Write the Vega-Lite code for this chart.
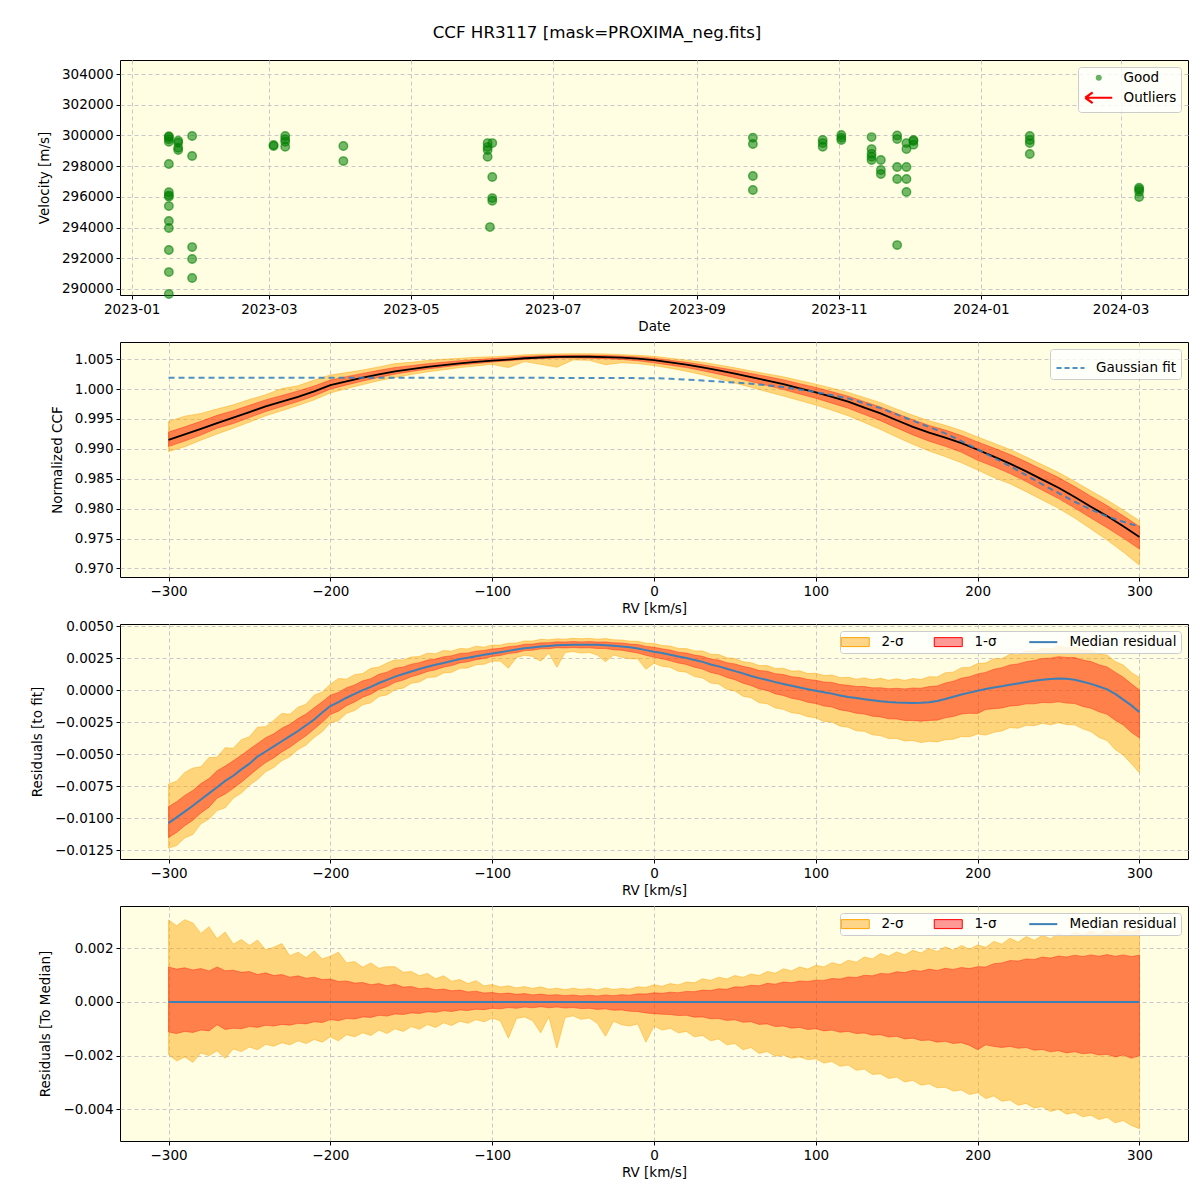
{
"$schema": "https://vega.github.io/schema/vega-lite/v6.json",
"padding": {"left": 29, "top": 24, "right": 12, "bottom": 10},
"background": "white",
"title": {"text": "CCF HR3117 [mask=PROXIMA_neg.fits]", "fontSize": 16.7, "fontWeight": "normal", "font": "DejaVu Sans", "anchor": "middle", "offset": 18, "dx": -12, "color": "black"},
"datasets": {
"pts": [
{"t":"2023-01-17","v":299950,"s":"Good"},{"t":"2023-01-17","v":299895,"s":"Good"},{"t":"2023-01-17","v":299750,"s":"Good"},{"t":"2023-01-17","v":299590,"s":"Good"},{"t":"2023-01-17","v":298140,"s":"Good"},{"t":"2023-01-17","v":296300,"s":"Good"},{"t":"2023-01-17","v":296100,"s":"Good"},{"t":"2023-01-17","v":296000,"s":"Good"},{"t":"2023-01-17","v":295400,"s":"Good"},{"t":"2023-01-17","v":294430,"s":"Good"},{"t":"2023-01-17","v":293970,"s":"Good"},{"t":"2023-01-17","v":292540,"s":"Good"},{"t":"2023-01-17","v":291100,"s":"Good"},{"t":"2023-01-17","v":289670,"s":"Good"},
{"t":"2023-01-21","v":299650,"s":"Good"},{"t":"2023-01-21","v":299520,"s":"Good"},{"t":"2023-01-21","v":299200,"s":"Good"},{"t":"2023-01-21","v":299050,"s":"Good"},
{"t":"2023-01-27","v":299960,"s":"Good"},{"t":"2023-01-27","v":298660,"s":"Good"},{"t":"2023-01-27","v":292730,"s":"Good"},{"t":"2023-01-27","v":291950,"s":"Good"},{"t":"2023-01-27","v":290720,"s":"Good"},
{"t":"2023-03-03","v":299310,"s":"Good"},{"t":"2023-03-03","v":299380,"s":"Good"},
{"t":"2023-03-08","v":299960,"s":"Good"},{"t":"2023-03-08","v":299750,"s":"Good"},{"t":"2023-03-08","v":299590,"s":"Good"},{"t":"2023-03-08","v":299260,"s":"Good"},
{"t":"2023-04-02","v":299310,"s":"Good"},{"t":"2023-04-02","v":298330,"s":"Good"},
{"t":"2023-06-03","v":299500,"s":"Good"},{"t":"2023-06-03","v":299240,"s":"Good"},{"t":"2023-06-03","v":299050,"s":"Good"},{"t":"2023-06-03","v":298610,"s":"Good"},
{"t":"2023-06-04","v":294030,"s":"Good"},
{"t":"2023-06-05","v":299500,"s":"Good"},{"t":"2023-06-05","v":297290,"s":"Good"},{"t":"2023-06-05","v":295920,"s":"Good"},{"t":"2023-06-05","v":295750,"s":"Good"},
{"t":"2023-09-25","v":299850,"s":"Good"},{"t":"2023-09-25","v":299440,"s":"Good"},{"t":"2023-09-25","v":297360,"s":"Good"},{"t":"2023-09-25","v":296450,"s":"Good"},
{"t":"2023-10-25","v":299700,"s":"Good"},{"t":"2023-10-25","v":299500,"s":"Good"},{"t":"2023-10-25","v":299260,"s":"Good"},
{"t":"2023-11-02","v":300030,"s":"Good"},{"t":"2023-11-02","v":299850,"s":"Good"},{"t":"2023-11-02","v":299700,"s":"Good"},
{"t":"2023-11-15","v":299890,"s":"Good"},{"t":"2023-11-15","v":299110,"s":"Good"},{"t":"2023-11-15","v":298800,"s":"Good"},{"t":"2023-11-15","v":298610,"s":"Good"},{"t":"2023-11-15","v":298400,"s":"Good"},
{"t":"2023-11-19","v":298400,"s":"Good"},{"t":"2023-11-19","v":297750,"s":"Good"},{"t":"2023-11-19","v":297490,"s":"Good"},
{"t":"2023-11-26","v":300000,"s":"Good"},{"t":"2023-11-26","v":299760,"s":"Good"},{"t":"2023-11-26","v":297940,"s":"Good"},{"t":"2023-11-26","v":297160,"s":"Good"},{"t":"2023-11-26","v":292860,"s":"Good"},
{"t":"2023-11-30","v":299500,"s":"Good"},{"t":"2023-11-30","v":299110,"s":"Good"},{"t":"2023-11-30","v":297940,"s":"Good"},{"t":"2023-11-30","v":297160,"s":"Good"},{"t":"2023-11-30","v":296320,"s":"Good"},
{"t":"2023-12-03","v":299700,"s":"Good"},{"t":"2023-12-03","v":299630,"s":"Good"},{"t":"2023-12-03","v":299400,"s":"Good"},
{"t":"2024-01-22","v":299960,"s":"Good"},{"t":"2024-01-22","v":299700,"s":"Good"},{"t":"2024-01-22","v":299500,"s":"Good"},{"t":"2024-01-22","v":298790,"s":"Good"},
{"t":"2024-03-09","v":296600,"s":"Good"},{"t":"2024-03-09","v":296500,"s":"Good"},{"t":"2024-03-09","v":296340,"s":"Good"},{"t":"2024-03-09","v":295990,"s":"Good"}
],
"p2": [
{"rv":-300,"ccf":0.99150,"g":1.00190,"u2":0.99455,"u1":0.99280,"l1":0.99038,"l2":0.98955},
{"rv":-290,"ccf":0.99240,"g":1.00190,"u2":0.99546,"u1":0.99367,"l1":0.99130,"l2":0.99035},
{"rv":-280,"ccf":0.99335,"g":1.00190,"u2":0.99590,"u1":0.99459,"l1":0.99230,"l2":0.99145},
{"rv":-270,"ccf":0.99430,"g":1.00190,"u2":0.99665,"u1":0.99560,"l1":0.99345,"l2":0.99248},
{"rv":-260,"ccf":0.99520,"g":1.00190,"u2":0.99735,"u1":0.99638,"l1":0.99422,"l2":0.99345},
{"rv":-250,"ccf":0.99615,"g":1.00190,"u2":0.99825,"u1":0.99728,"l1":0.99523,"l2":0.99447},
{"rv":-240,"ccf":0.99710,"g":1.00190,"u2":0.99904,"u1":0.99818,"l1":0.99623,"l2":0.99552},
{"rv":-230,"ccf":0.99790,"g":1.00190,"u2":1.00007,"u1":0.99892,"l1":0.99706,"l2":0.99638},
{"rv":-220,"ccf":0.99870,"g":1.00190,"u2":1.00055,"u1":0.99967,"l1":0.99790,"l2":0.99725},
{"rv":-210,"ccf":0.99959,"g":1.00189,"u2":1.00149,"u1":1.00051,"l1":0.99885,"l2":0.99819},
{"rv":-200,"ccf":1.00064,"g":1.00189,"u2":1.00234,"u1":1.00149,"l1":0.99998,"l2":0.99934},
{"rv":-190,"ccf":1.00129,"g":1.00189,"u2":1.00274,"u1":1.00207,"l1":1.00067,"l2":1.00007},
{"rv":-180,"ccf":1.00189,"g":1.00189,"u2":1.00318,"u1":1.00261,"l1":1.00133,"l2":1.00074},
{"rv":-170,"ccf":1.00244,"g":1.00189,"u2":1.00369,"u1":1.00312,"l1":1.00194,"l2":1.00139},
{"rv":-160,"ccf":1.00294,"g":1.00189,"u2":1.00425,"u1":1.00360,"l1":1.00249,"l2":1.00194},
{"rv":-150,"ccf":1.00334,"g":1.00189,"u2":1.00447,"u1":1.00391,"l1":1.00293,"l2":1.00242},
{"rv":-140,"ccf":1.00371,"g":1.00189,"u2":1.00477,"u1":1.00423,"l1":1.00334,"l2":1.00287},
{"rv":-130,"ccf":1.00400,"g":1.00188,"u2":1.00497,"u1":1.00448,"l1":1.00367,"l2":1.00322},
{"rv":-120,"ccf":1.00430,"g":1.00188,"u2":1.00513,"u1":1.00474,"l1":1.00400,"l2":1.00358},
{"rv":-110,"ccf":1.00452,"g":1.00188,"u2":1.00531,"u1":1.00492,"l1":1.00425,"l2":1.00386},
{"rv":-100,"ccf":1.00474,"g":1.00188,"u2":1.00539,"u1":1.00509,"l1":1.00450,"l2":1.00413},
{"rv":-90,"ccf":1.00493,"g":1.00187,"u2":1.00553,"u1":1.00526,"l1":1.00472,"l2":1.00358},
{"rv":-80,"ccf":1.00514,"g":1.00187,"u2":1.00571,"u1":1.00545,"l1":1.00495,"l2":1.00458},
{"rv":-70,"ccf":1.00527,"g":1.00187,"u2":1.00583,"u1":1.00556,"l1":1.00509,"l2":1.00412},
{"rv":-60,"ccf":1.00536,"g":1.00186,"u2":1.00587,"u1":1.00563,"l1":1.00517,"l2":1.00364},
{"rv":-50,"ccf":1.00539,"g":1.00186,"u2":1.00590,"u1":1.00565,"l1":1.00518,"l2":1.00487},
{"rv":-40,"ccf":1.00539,"g":1.00185,"u2":1.00589,"u1":1.00564,"l1":1.00515,"l2":1.00479},
{"rv":-30,"ccf":1.00534,"g":1.00184,"u2":1.00586,"u1":1.00560,"l1":1.00508,"l2":1.00406},
{"rv":-20,"ccf":1.00524,"g":1.00183,"u2":1.00574,"u1":1.00551,"l1":1.00494,"l2":1.00439},
{"rv":-10,"ccf":1.00507,"g":1.00182,"u2":1.00563,"u1":1.00537,"l1":1.00471,"l2":1.00425},
{"rv":0,"ccf":1.00482,"g":1.00182,"u2":1.00546,"u1":1.00516,"l1":1.00438,"l2":1.00392},
{"rv":10,"ccf":1.00446,"g":1.00170,"u2":1.00514,"u1":1.00482,"l1":1.00399,"l2":1.00348},
{"rv":20,"ccf":1.00408,"g":1.00158,"u2":1.00482,"u1":1.00447,"l1":1.00358,"l2":1.00298},
{"rv":30,"ccf":1.00362,"g":1.00142,"u2":1.00448,"u1":1.00406,"l1":1.00306,"l2":1.00237},
{"rv":40,"ccf":1.00310,"g":1.00125,"u2":1.00402,"u1":1.00359,"l1":1.00248,"l2":1.00172},
{"rv":50,"ccf":1.00256,"g":1.00108,"u2":1.00354,"u1":1.00312,"l1":1.00189,"l2":1.00101},
{"rv":60,"ccf":1.00198,"g":1.00088,"u2":1.00302,"u1":1.00260,"l1":1.00124,"l2":1.00028},
{"rv":70,"ccf":1.00140,"g":1.00062,"u2":1.00253,"u1":1.00209,"l1":1.00058,"l2":0.99955},
{"rv":80,"ccf":1.00080,"g":1.00033,"u2":1.00203,"u1":1.00154,"l1":0.99990,"l2":0.99882},
{"rv":90,"ccf":1.00012,"g":0.99992,"u2":1.00142,"u1":1.00090,"l1":0.99917,"l2":0.99807},
{"rv":100,"ccf":0.99945,"g":0.99950,"u2":1.00081,"u1":1.00026,"l1":0.99845,"l2":0.99733},
{"rv":110,"ccf":0.99867,"g":0.99895,"u2":1.00013,"u1":0.99954,"l1":0.99762,"l2":0.99645},
{"rv":120,"ccf":0.99788,"g":0.99843,"u2":0.99943,"u1":0.99881,"l1":0.99678,"l2":0.99553},
{"rv":130,"ccf":0.99690,"g":0.99762,"u2":0.99857,"u1":0.99789,"l1":0.99574,"l2":0.99440},
{"rv":140,"ccf":0.99592,"g":0.99680,"u2":0.99772,"u1":0.99698,"l1":0.99470,"l2":0.99324},
{"rv":150,"ccf":0.99477,"g":0.99575,"u2":0.99663,"u1":0.99589,"l1":0.99349,"l2":0.99197},
{"rv":160,"ccf":0.99368,"g":0.99470,"u2":0.99560,"u1":0.99486,"l1":0.99233,"l2":0.99076},
{"rv":170,"ccf":0.99270,"g":0.99365,"u2":0.99469,"u1":0.99392,"l1":0.99128,"l2":0.98965},
{"rv":180,"ccf":0.99188,"g":0.99258,"u2":0.99393,"u1":0.99313,"l1":0.99041,"l2":0.98870},
{"rv":190,"ccf":0.99095,"g":0.99130,"u2":0.99305,"u1":0.99223,"l1":0.98943,"l2":0.98767},
{"rv":200,"ccf":0.98985,"g":0.98990,"u2":0.99197,"u1":0.99116,"l1":0.98807,"l2":0.98647},
{"rv":210,"ccf":0.98870,"g":0.98850,"u2":0.99095,"u1":0.99012,"l1":0.98704,"l2":0.98520},
{"rv":220,"ccf":0.98752,"g":0.98710,"u2":0.98989,"u1":0.98906,"l1":0.98586,"l2":0.98417},
{"rv":230,"ccf":0.98622,"g":0.98560,"u2":0.98865,"u1":0.98782,"l1":0.98452,"l2":0.98284},
{"rv":240,"ccf":0.98485,"g":0.98405,"u2":0.98733,"u1":0.98652,"l1":0.98308,"l2":0.98145},
{"rv":250,"ccf":0.98350,"g":0.98260,"u2":0.98605,"u1":0.98521,"l1":0.98168,"l2":0.98005},
{"rv":260,"ccf":0.98195,"g":0.98115,"u2":0.98455,"u1":0.98369,"l1":0.98009,"l2":0.97843},
{"rv":270,"ccf":0.98033,"g":0.97985,"u2":0.98297,"u1":0.98208,"l1":0.97843,"l2":0.97661},
{"rv":280,"ccf":0.97875,"g":0.97870,"u2":0.98143,"u1":0.98051,"l1":0.97680,"l2":0.97475},
{"rv":290,"ccf":0.97705,"g":0.97780,"u2":0.97975,"u1":0.97880,"l1":0.97507,"l2":0.97273},
{"rv":300,"ccf":0.97526,"g":0.97700,"u2":0.97798,"u1":0.97700,"l1":0.97326,"l2":0.97054}
],
"p34": [
{"rv":-300,"z":0,"m":-0.01040,"a":0.00305,"b":0.00130,"c":-0.00112,"d":-0.00195,"A":-0.00735,"B":-0.00910,"C":-0.01152,"D":-0.01235},
{"rv":-295,"z":0,"m":-0.00995,"a":0.00283,"b":0.00122,"c":-0.00118,"d":-0.00220,"A":-0.00712,"B":-0.00873,"C":-0.01113,"D":-0.01215},
{"rv":-290,"z":0,"m":-0.00950,"a":0.00306,"b":0.00127,"c":-0.00110,"d":-0.00205,"A":-0.00644,"B":-0.00823,"C":-0.01060,"D":-0.01155},
{"rv":-285,"z":0,"m":-0.00904,"a":0.00294,"b":0.00119,"c":-0.00114,"d":-0.00225,"A":-0.00610,"B":-0.00785,"C":-0.01018,"D":-0.01129},
{"rv":-280,"z":0,"m":-0.00855,"a":0.00255,"b":0.00124,"c":-0.00105,"d":-0.00190,"A":-0.00600,"B":-0.00731,"C":-0.00960,"D":-0.01045},
{"rv":-275,"z":0,"m":-0.00807,"a":0.00280,"b":0.00115,"c":-0.00108,"d":-0.00200,"A":-0.00527,"B":-0.00692,"C":-0.00915,"D":-0.01007},
{"rv":-270,"z":0,"m":-0.00760,"a":0.00235,"b":0.00130,"c":-0.00085,"d":-0.00182,"A":-0.00525,"B":-0.00630,"C":-0.00845,"D":-0.00942},
{"rv":-265,"z":0,"m":-0.00710,"a":0.00260,"b":0.00116,"c":-0.00103,"d":-0.00210,"A":-0.00450,"B":-0.00594,"C":-0.00813,"D":-0.00920},
{"rv":-260,"z":0,"m":-0.00670,"a":0.00215,"b":0.00118,"c":-0.00098,"d":-0.00175,"A":-0.00455,"B":-0.00552,"C":-0.00768,"D":-0.00845},
{"rv":-255,"z":0,"m":-0.00620,"a":0.00232,"b":0.00110,"c":-0.00100,"d":-0.00185,"A":-0.00388,"B":-0.00510,"C":-0.00720,"D":-0.00805},
{"rv":-250,"z":0,"m":-0.00575,"a":0.00210,"b":0.00113,"c":-0.00092,"d":-0.00168,"A":-0.00365,"B":-0.00462,"C":-0.00667,"D":-0.00743},
{"rv":-245,"z":0,"m":-0.00520,"a":0.00230,"b":0.00102,"c":-0.00095,"d":-0.00178,"A":-0.00290,"B":-0.00418,"C":-0.00615,"D":-0.00698},
{"rv":-240,"z":0,"m":-0.00480,"a":0.00194,"b":0.00108,"c":-0.00087,"d":-0.00158,"A":-0.00286,"B":-0.00372,"C":-0.00567,"D":-0.00638},
{"rv":-235,"z":0,"m":-0.00440,"a":0.00203,"b":0.00098,"c":-0.00090,"d":-0.00165,"A":-0.00237,"B":-0.00342,"C":-0.00530,"D":-0.00605},
{"rv":-230,"z":0,"m":-0.00400,"a":0.00217,"b":0.00102,"c":-0.00084,"d":-0.00152,"A":-0.00183,"B":-0.00298,"C":-0.00484,"D":-0.00552},
{"rv":-225,"z":0,"m":-0.00360,"a":0.00171,"b":0.00092,"c":-0.00087,"d":-0.00160,"A":-0.00189,"B":-0.00268,"C":-0.00447,"D":-0.00520},
{"rv":-220,"z":0,"m":-0.00320,"a":0.00185,"b":0.00097,"c":-0.00080,"d":-0.00145,"A":-0.00135,"B":-0.00223,"C":-0.00400,"D":-0.00465},
{"rv":-215,"z":0,"m":-0.00275,"a":0.00165,"b":0.00088,"c":-0.00082,"d":-0.00155,"A":-0.00110,"B":-0.00187,"C":-0.00357,"D":-0.00430},
{"rv":-210,"z":0,"m":-0.00230,"a":0.00190,"b":0.00092,"c":-0.00074,"d":-0.00140,"A":-0.00040,"B":-0.00138,"C":-0.00304,"D":-0.00370},
{"rv":-205,"z":0,"m":-0.00175,"a":0.00160,"b":0.00083,"c":-0.00077,"d":-0.00150,"A":-0.00015,"B":-0.00092,"C":-0.00252,"D":-0.00325},
{"rv":-200,"z":0,"m":-0.00125,"a":0.00170,"b":0.00085,"c":-0.00066,"d":-0.00130,"A":0.00045,"B":-0.00040,"C":-0.00191,"D":-0.00255},
{"rv":-195,"z":0,"m":-0.00095,"a":0.00185,"b":0.00076,"c":-0.00070,"d":-0.00145,"A":0.00090,"B":-0.00019,"C":-0.00165,"D":-0.00240},
{"rv":-190,"z":0,"m":-0.00060,"a":0.00145,"b":0.00078,"c":-0.00062,"d":-0.00122,"A":0.00085,"B":0.00018,"C":-0.00122,"D":-0.00182},
{"rv":-185,"z":0,"m":-0.00030,"a":0.00150,"b":0.00070,"c":-0.00064,"d":-0.00130,"A":0.00120,"B":0.00040,"C":-0.00094,"D":-0.00160},
{"rv":-180,"z":0,"m":0.00000,"a":0.00129,"b":0.00072,"c":-0.00056,"d":-0.00115,"A":0.00129,"B":0.00072,"C":-0.00056,"D":-0.00115},
{"rv":-175,"z":0,"m":0.00025,"a":0.00145,"b":0.00064,"c":-0.00058,"d":-0.00125,"A":0.00170,"B":0.00089,"C":-0.00033,"D":-0.00100},
{"rv":-170,"z":0,"m":0.00055,"a":0.00125,"b":0.00068,"c":-0.00050,"d":-0.00105,"A":0.00180,"B":0.00123,"C":0.00005,"D":-0.00050},
{"rv":-165,"z":0,"m":0.00080,"a":0.00131,"b":0.00060,"c":-0.00053,"d":-0.00118,"A":0.00211,"B":0.00140,"C":0.00027,"D":-0.00038},
{"rv":-160,"z":0,"m":0.00105,"a":0.00131,"b":0.00066,"c":-0.00045,"d":-0.00100,"A":0.00236,"B":0.00171,"C":0.00060,"D":0.00005},
{"rv":-155,"z":0,"m":0.00125,"a":0.00110,"b":0.00055,"c":-0.00047,"d":-0.00110,"A":0.00235,"B":0.00180,"C":0.00078,"D":0.00015},
{"rv":-150,"z":0,"m":0.00145,"a":0.00113,"b":0.00057,"c":-0.00041,"d":-0.00092,"A":0.00258,"B":0.00202,"C":0.00104,"D":0.00053},
{"rv":-145,"z":0,"m":0.00165,"a":0.00097,"b":0.00049,"c":-0.00043,"d":-0.00102,"A":0.00262,"B":0.00214,"C":0.00122,"D":0.00063},
{"rv":-140,"z":0,"m":0.00182,"a":0.00106,"b":0.00052,"c":-0.00037,"d":-0.00084,"A":0.00288,"B":0.00234,"C":0.00145,"D":0.00098},
{"rv":-135,"z":0,"m":0.00197,"a":0.00086,"b":0.00045,"c":-0.00039,"d":-0.00095,"A":0.00283,"B":0.00242,"C":0.00158,"D":0.00102},
{"rv":-130,"z":0,"m":0.00212,"a":0.00097,"b":0.00048,"c":-0.00033,"d":-0.00078,"A":0.00309,"B":0.00260,"C":0.00179,"D":0.00134},
{"rv":-125,"z":0,"m":0.00227,"a":0.00077,"b":0.00041,"c":-0.00036,"d":-0.00088,"A":0.00304,"B":0.00268,"C":0.00191,"D":0.00139},
{"rv":-120,"z":0,"m":0.00242,"a":0.00083,"b":0.00044,"c":-0.00030,"d":-0.00072,"A":0.00325,"B":0.00286,"C":0.00212,"D":0.00170},
{"rv":-115,"z":0,"m":0.00253,"a":0.00068,"b":0.00037,"c":-0.00032,"d":-0.00080,"A":0.00321,"B":0.00290,"C":0.00221,"D":0.00173},
{"rv":-110,"z":0,"m":0.00264,"a":0.00079,"b":0.00040,"c":-0.00027,"d":-0.00066,"A":0.00343,"B":0.00304,"C":0.00237,"D":0.00198},
{"rv":-105,"z":0,"m":0.00276,"a":0.00059,"b":0.00033,"c":-0.00029,"d":-0.00074,"A":0.00335,"B":0.00309,"C":0.00247,"D":0.00202},
{"rv":-100,"z":0,"m":0.00286,"a":0.00065,"b":0.00035,"c":-0.00024,"d":-0.00061,"A":0.00351,"B":0.00321,"C":0.00262,"D":0.00225},
{"rv":-95,"z":0,"m":0.00296,"a":0.00055,"b":0.00030,"c":-0.00026,"d":-0.00070,"A":0.00351,"B":0.00326,"C":0.00270,"D":0.00226},
{"rv":-90,"z":0,"m":0.00306,"a":0.00060,"b":0.00033,"c":-0.00021,"d":-0.00135,"A":0.00366,"B":0.00339,"C":0.00285,"D":0.00171},
{"rv":-85,"z":0,"m":0.00316,"a":0.00052,"b":0.00028,"c":-0.00024,"d":-0.00062,"A":0.00368,"B":0.00344,"C":0.00292,"D":0.00254},
{"rv":-80,"z":0,"m":0.00327,"a":0.00057,"b":0.00031,"c":-0.00019,"d":-0.00056,"A":0.00384,"B":0.00358,"C":0.00308,"D":0.00271},
{"rv":-75,"z":0,"m":0.00333,"a":0.00050,"b":0.00026,"c":-0.00022,"d":-0.00070,"A":0.00383,"B":0.00359,"C":0.00311,"D":0.00263},
{"rv":-70,"z":0,"m":0.00340,"a":0.00056,"b":0.00029,"c":-0.00018,"d":-0.00115,"A":0.00396,"B":0.00369,"C":0.00322,"D":0.00225},
{"rv":-65,"z":0,"m":0.00345,"a":0.00047,"b":0.00025,"c":-0.00022,"d":-0.00055,"A":0.00392,"B":0.00370,"C":0.00323,"D":0.00290},
{"rv":-60,"z":0,"m":0.00350,"a":0.00051,"b":0.00027,"c":-0.00019,"d":-0.00172,"A":0.00401,"B":0.00377,"C":0.00331,"D":0.00178},
{"rv":-55,"z":0,"m":0.00352,"a":0.00045,"b":0.00023,"c":-0.00023,"d":-0.00058,"A":0.00397,"B":0.00375,"C":0.00329,"D":0.00294},
{"rv":-50,"z":0,"m":0.00353,"a":0.00051,"b":0.00026,"c":-0.00021,"d":-0.00052,"A":0.00404,"B":0.00379,"C":0.00332,"D":0.00301},
{"rv":-45,"z":0,"m":0.00354,"a":0.00046,"b":0.00022,"c":-0.00025,"d":-0.00065,"A":0.00400,"B":0.00376,"C":0.00329,"D":0.00289},
{"rv":-40,"z":0,"m":0.00354,"a":0.00050,"b":0.00025,"c":-0.00024,"d":-0.00060,"A":0.00404,"B":0.00379,"C":0.00330,"D":0.00294},
{"rv":-35,"z":0,"m":0.00353,"a":0.00044,"b":0.00022,"c":-0.00028,"d":-0.00080,"A":0.00397,"B":0.00375,"C":0.00325,"D":0.00273},
{"rv":-30,"z":0,"m":0.00350,"a":0.00052,"b":0.00026,"c":-0.00026,"d":-0.00128,"A":0.00402,"B":0.00376,"C":0.00324,"D":0.00222},
{"rv":-25,"z":0,"m":0.00346,"a":0.00046,"b":0.00023,"c":-0.00031,"d":-0.00072,"A":0.00392,"B":0.00369,"C":0.00315,"D":0.00274},
{"rv":-20,"z":0,"m":0.00341,"a":0.00050,"b":0.00027,"c":-0.00030,"d":-0.00085,"A":0.00391,"B":0.00368,"C":0.00311,"D":0.00256},
{"rv":-15,"z":0,"m":0.00335,"a":0.00047,"b":0.00025,"c":-0.00035,"d":-0.00090,"A":0.00382,"B":0.00360,"C":0.00300,"D":0.00245},
{"rv":-10,"z":0,"m":0.00325,"a":0.00056,"b":0.00030,"c":-0.00036,"d":-0.00082,"A":0.00381,"B":0.00355,"C":0.00289,"D":0.00243},
{"rv":-5,"z":0,"m":0.00312,"a":0.00054,"b":0.00029,"c":-0.00041,"d":-0.00150,"A":0.00366,"B":0.00341,"C":0.00271,"D":0.00162},
{"rv":0,"z":0,"m":0.00300,"a":0.00064,"b":0.00034,"c":-0.00044,"d":-0.00090,"A":0.00364,"B":0.00334,"C":0.00256,"D":0.00210},
{"rv":5,"z":0,"m":0.00290,"a":0.00058,"b":0.00032,"c":-0.00046,"d":-0.00105,"A":0.00348,"B":0.00322,"C":0.00244,"D":0.00185},
{"rv":10,"z":0,"m":0.00276,"a":0.00068,"b":0.00036,"c":-0.00047,"d":-0.00098,"A":0.00344,"B":0.00312,"C":0.00229,"D":0.00178},
{"rv":15,"z":0,"m":0.00262,"a":0.00063,"b":0.00034,"c":-0.00051,"d":-0.00115,"A":0.00325,"B":0.00296,"C":0.00211,"D":0.00147},
{"rv":20,"z":0,"m":0.00250,"a":0.00074,"b":0.00039,"c":-0.00050,"d":-0.00110,"A":0.00324,"B":0.00289,"C":0.00200,"D":0.00140},
{"rv":25,"z":0,"m":0.00235,"a":0.00071,"b":0.00038,"c":-0.00057,"d":-0.00130,"A":0.00306,"B":0.00273,"C":0.00178,"D":0.00105},
{"rv":30,"z":0,"m":0.00220,"a":0.00086,"b":0.00044,"c":-0.00056,"d":-0.00125,"A":0.00306,"B":0.00264,"C":0.00164,"D":0.00095},
{"rv":35,"z":0,"m":0.00200,"a":0.00080,"b":0.00042,"c":-0.00063,"d":-0.00145,"A":0.00280,"B":0.00242,"C":0.00137,"D":0.00055},
{"rv":40,"z":0,"m":0.00185,"a":0.00092,"b":0.00049,"c":-0.00062,"d":-0.00138,"A":0.00277,"B":0.00234,"C":0.00123,"D":0.00047},
{"rv":45,"z":0,"m":0.00167,"a":0.00085,"b":0.00047,"c":-0.00069,"d":-0.00160,"A":0.00252,"B":0.00214,"C":0.00098,"D":0.00007},
{"rv":50,"z":0,"m":0.00148,"a":0.00098,"b":0.00056,"c":-0.00067,"d":-0.00155,"A":0.00246,"B":0.00204,"C":0.00081,"D":-0.00007},
{"rv":55,"z":0,"m":0.00130,"a":0.00091,"b":0.00055,"c":-0.00076,"d":-0.00178,"A":0.00221,"B":0.00185,"C":0.00054,"D":-0.00048},
{"rv":60,"z":0,"m":0.00110,"a":0.00104,"b":0.00062,"c":-0.00074,"d":-0.00170,"A":0.00214,"B":0.00172,"C":0.00036,"D":-0.00060},
{"rv":65,"z":0,"m":0.00093,"a":0.00098,"b":0.00060,"c":-0.00084,"d":-0.00192,"A":0.00191,"B":0.00153,"C":0.00009,"D":-0.00099},
{"rv":70,"z":0,"m":0.00078,"a":0.00113,"b":0.00069,"c":-0.00082,"d":-0.00185,"A":0.00191,"B":0.00147,"C":-0.00004,"D":-0.00107},
{"rv":75,"z":0,"m":0.00062,"a":0.00107,"b":0.00066,"c":-0.00092,"d":-0.00202,"A":0.00169,"B":0.00128,"C":-0.00030,"D":-0.00140},
{"rv":80,"z":0,"m":0.00047,"a":0.00123,"b":0.00074,"c":-0.00090,"d":-0.00198,"A":0.00170,"B":0.00121,"C":-0.00043,"D":-0.00151},
{"rv":85,"z":0,"m":0.00033,"a":0.00115,"b":0.00071,"c":-0.00098,"d":-0.00210,"A":0.00148,"B":0.00104,"C":-0.00065,"D":-0.00177},
{"rv":90,"z":0,"m":0.00020,"a":0.00130,"b":0.00078,"c":-0.00095,"d":-0.00205,"A":0.00150,"B":0.00098,"C":-0.00075,"D":-0.00185},
{"rv":95,"z":0,"m":0.00007,"a":0.00122,"b":0.00076,"c":-0.00103,"d":-0.00215,"A":0.00129,"B":0.00083,"C":-0.00096,"D":-0.00208},
{"rv":100,"z":0,"m":-0.00005,"a":0.00136,"b":0.00081,"c":-0.00100,"d":-0.00212,"A":0.00131,"B":0.00076,"C":-0.00105,"D":-0.00217},
{"rv":105,"z":0,"m":-0.00017,"a":0.00130,"b":0.00080,"c":-0.00108,"d":-0.00228,"A":0.00113,"B":0.00063,"C":-0.00125,"D":-0.00245},
{"rv":110,"z":0,"m":-0.00028,"a":0.00146,"b":0.00087,"c":-0.00105,"d":-0.00222,"A":0.00118,"B":0.00059,"C":-0.00133,"D":-0.00250},
{"rv":115,"z":0,"m":-0.00042,"a":0.00138,"b":0.00085,"c":-0.00113,"d":-0.00240,"A":0.00096,"B":0.00043,"C":-0.00155,"D":-0.00282},
{"rv":120,"z":0,"m":-0.00055,"a":0.00155,"b":0.00093,"c":-0.00110,"d":-0.00235,"A":0.00100,"B":0.00038,"C":-0.00165,"D":-0.00290},
{"rv":125,"z":0,"m":-0.00063,"a":0.00148,"b":0.00091,"c":-0.00118,"d":-0.00255,"A":0.00085,"B":0.00028,"C":-0.00181,"D":-0.00318},
{"rv":130,"z":0,"m":-0.00072,"a":0.00167,"b":0.00099,"c":-0.00116,"d":-0.00250,"A":0.00095,"B":0.00027,"C":-0.00188,"D":-0.00322},
{"rv":135,"z":0,"m":-0.00080,"a":0.00160,"b":0.00097,"c":-0.00124,"d":-0.00270,"A":0.00080,"B":0.00017,"C":-0.00204,"D":-0.00350},
{"rv":140,"z":0,"m":-0.00088,"a":0.00180,"b":0.00106,"c":-0.00122,"d":-0.00268,"A":0.00092,"B":0.00018,"C":-0.00210,"D":-0.00356},
{"rv":145,"z":0,"m":-0.00094,"a":0.00170,"b":0.00104,"c":-0.00131,"d":-0.00285,"A":0.00076,"B":0.00010,"C":-0.00225,"D":-0.00379},
{"rv":150,"z":0,"m":-0.00098,"a":0.00186,"b":0.00112,"c":-0.00128,"d":-0.00280,"A":0.00088,"B":0.00014,"C":-0.00226,"D":-0.00378},
{"rv":155,"z":0,"m":-0.00100,"a":0.00175,"b":0.00109,"c":-0.00138,"d":-0.00298,"A":0.00075,"B":0.00009,"C":-0.00238,"D":-0.00398},
{"rv":160,"z":0,"m":-0.00102,"a":0.00192,"b":0.00118,"c":-0.00135,"d":-0.00292,"A":0.00090,"B":0.00016,"C":-0.00237,"D":-0.00394},
{"rv":165,"z":0,"m":-0.00100,"a":0.00182,"b":0.00114,"c":-0.00144,"d":-0.00310,"A":0.00082,"B":0.00014,"C":-0.00244,"D":-0.00410},
{"rv":170,"z":0,"m":-0.00095,"a":0.00199,"b":0.00122,"c":-0.00142,"d":-0.00305,"A":0.00104,"B":0.00027,"C":-0.00237,"D":-0.00400},
{"rv":175,"z":0,"m":-0.00085,"a":0.00187,"b":0.00117,"c":-0.00150,"d":-0.00320,"A":0.00102,"B":0.00032,"C":-0.00235,"D":-0.00405},
{"rv":180,"z":0,"m":-0.00070,"a":0.00205,"b":0.00125,"c":-0.00147,"d":-0.00318,"A":0.00135,"B":0.00055,"C":-0.00217,"D":-0.00388},
{"rv":185,"z":0,"m":-0.00052,"a":0.00192,"b":0.00121,"c":-0.00155,"d":-0.00332,"A":0.00140,"B":0.00069,"C":-0.00207,"D":-0.00384},
{"rv":190,"z":0,"m":-0.00035,"a":0.00210,"b":0.00128,"c":-0.00152,"d":-0.00328,"A":0.00175,"B":0.00093,"C":-0.00187,"D":-0.00363},
{"rv":195,"z":0,"m":-0.00020,"a":0.00196,"b":0.00124,"c":-0.00162,"d":-0.00345,"A":0.00176,"B":0.00104,"C":-0.00182,"D":-0.00365},
{"rv":200,"z":0,"m":-0.00005,"a":0.00212,"b":0.00131,"c":-0.00178,"d":-0.00338,"A":0.00207,"B":0.00126,"C":-0.00183,"D":-0.00343},
{"rv":205,"z":0,"m":0.00008,"a":0.00203,"b":0.00130,"c":-0.00160,"d":-0.00360,"A":0.00211,"B":0.00138,"C":-0.00152,"D":-0.00352},
{"rv":210,"z":0,"m":0.00020,"a":0.00225,"b":0.00142,"c":-0.00166,"d":-0.00350,"A":0.00245,"B":0.00162,"C":-0.00146,"D":-0.00330},
{"rv":215,"z":0,"m":0.00030,"a":0.00215,"b":0.00145,"c":-0.00170,"d":-0.00370,"A":0.00245,"B":0.00175,"C":-0.00140,"D":-0.00320},
{"rv":220,"z":0,"m":0.00042,"a":0.00237,"b":0.00154,"c":-0.00166,"d":-0.00365,"A":0.00279,"B":0.00196,"C":-0.00124,"D":-0.00293},
{"rv":225,"z":0,"m":0.00052,"a":0.00222,"b":0.00152,"c":-0.00173,"d":-0.00385,"A":0.00274,"B":0.00204,"C":-0.00121,"D":-0.00298},
{"rv":230,"z":0,"m":0.00062,"a":0.00243,"b":0.00160,"c":-0.00170,"d":-0.00378,"A":0.00305,"B":0.00222,"C":-0.00108,"D":-0.00276},
{"rv":235,"z":0,"m":0.00072,"a":0.00229,"b":0.00158,"c":-0.00180,"d":-0.00395,"A":0.00301,"B":0.00230,"C":-0.00108,"D":-0.00278},
{"rv":240,"z":0,"m":0.00080,"a":0.00248,"b":0.00167,"c":-0.00177,"d":-0.00390,"A":0.00328,"B":0.00247,"C":-0.00097,"D":-0.00260},
{"rv":245,"z":0,"m":0.00086,"a":0.00235,"b":0.00163,"c":-0.00186,"d":-0.00408,"A":0.00321,"B":0.00249,"C":-0.00100,"D":-0.00272},
{"rv":250,"z":0,"m":0.00090,"a":0.00255,"b":0.00171,"c":-0.00182,"d":-0.00400,"A":0.00345,"B":0.00261,"C":-0.00092,"D":-0.00255},
{"rv":255,"z":0,"m":0.00088,"a":0.00242,"b":0.00167,"c":-0.00190,"d":-0.00418,"A":0.00330,"B":0.00255,"C":-0.00102,"D":-0.00270},
{"rv":260,"z":0,"m":0.00080,"a":0.00260,"b":0.00174,"c":-0.00186,"d":-0.00412,"A":0.00340,"B":0.00254,"C":-0.00106,"D":-0.00272},
{"rv":265,"z":0,"m":0.00065,"a":0.00248,"b":0.00169,"c":-0.00193,"d":-0.00428,"A":0.00313,"B":0.00234,"C":-0.00128,"D":-0.00303},
{"rv":270,"z":0,"m":0.00048,"a":0.00264,"b":0.00175,"c":-0.00190,"d":-0.00422,"A":0.00312,"B":0.00223,"C":-0.00142,"D":-0.00324},
{"rv":275,"z":0,"m":0.00028,"a":0.00251,"b":0.00170,"c":-0.00198,"d":-0.00438,"A":0.00279,"B":0.00198,"C":-0.00170,"D":-0.00370},
{"rv":280,"z":0,"m":0.00005,"a":0.00268,"b":0.00176,"c":-0.00195,"d":-0.00430,"A":0.00273,"B":0.00181,"C":-0.00190,"D":-0.00395},
{"rv":285,"z":0,"m":-0.00030,"a":0.00254,"b":0.00170,"c":-0.00205,"d":-0.00450,"A":0.00224,"B":0.00140,"C":-0.00235,"D":-0.00465},
{"rv":290,"z":0,"m":-0.00075,"a":0.00270,"b":0.00175,"c":-0.00198,"d":-0.00442,"A":0.00195,"B":0.00100,"C":-0.00273,"D":-0.00507},
{"rv":295,"z":0,"m":-0.00120,"a":0.00258,"b":0.00169,"c":-0.00210,"d":-0.00460,"A":0.00138,"B":0.00049,"C":-0.00330,"D":-0.00575},
{"rv":300,"z":0,"m":-0.00174,"a":0.00272,"b":0.00174,"c":-0.00200,"d":-0.00472,"A":0.00098,"B":0.00000,"C":-0.00374,"D":-0.00646}
]
},
"vconcat": [
{
"width": 1068, "height": 235,
"data": {"name": "pts"},
"mark": {"type": "point", "filled": true, "size": 72, "fillOpacity": 0.55, "stroke": "green", "strokeOpacity": 0.6, "strokeWidth": 1.4},
"encoding": {
"x": {"field": "t", "type": "temporal", "title": "Date",
 "scale": {"type": "utc", "domain": [{"year": 2022, "month": 12, "date": 27, "utc": true}, {"year": 2024, "month": 3, "date": 30, "utc": true}]},
 "axis": {"format": "%Y-%m", "values": [{"year": 2023, "month": 1, "date": 1, "utc": true}, {"year": 2023, "month": 3, "date": 1, "utc": true}, {"year": 2023, "month": 5, "date": 1, "utc": true}, {"year": 2023, "month": 7, "date": 1, "utc": true}, {"year": 2023, "month": 9, "date": 1, "utc": true}, {"year": 2023, "month": 11, "date": 1, "utc": true}, {"year": 2024, "month": 1, "date": 1, "utc": true}, {"year": 2024, "month": 3, "date": 1, "utc": true}]}},
"y": {"field": "v", "type": "quantitative", "title": "Velocity [m/s]",
 "scale": {"domain": [289609, 304912], "nice": false, "zero": false},
 "axis": {"format": "d", "titlePadding": 6, "values": [290000, 292000, 294000, 296000, 298000, 300000, 302000, 304000]}},
"color": {"field": "s", "type": "nominal",
 "scale": {"domain": ["Good", "Outliers"], "range": ["green", "red"]},
 "legend": {"title": null, "orient": "top-right", "symbolSize": 256, "symbolOffset": 10, "labelOffset": 18, "rowPadding": 1, "padding": 4,
  "encoding": {"symbols": {
   "shape": {"value": {"expr": "datum.value === 'Outliers' ? 'M1,0L-1,0M-1,0L-0.45,-0.4M-1,0L-0.45,0.4' : 'circle'"}},
   "size": {"value": {"expr": "datum.value === 'Outliers' ? 729 : 36"}},
   "fill": {"value": {"expr": "datum.value === 'Outliers' ? 'transparent' : 'green'"}},
   "fillOpacity": {"value": 0.6},
   "stroke": {"value": {"expr": "datum.value === 'Outliers' ? 'red' : 'transparent'"}},
   "strokeWidth": {"value": 2.2},
   "opacity": {"value": 1}}}}}
}
},
{
"width": 1068, "height": 235,
"data": {"name": "p2"},
"encoding": {"x": {"field": "rv", "type": "quantitative", "title": "RV [km/s]", "scale": {"domain": [-330, 330], "nice": false, "zero": false}, "axis": {"format": "d", "values": [-300, -200, -100, 0, 100, 200, 300]}}},
"layer": [
{"mark": {"type": "area", "color": "orange", "fillOpacity": 0.45, "stroke": "orange", "strokeOpacity": 0.45, "strokeWidth": 1},
 "encoding": {"y": {"field": "u2", "type": "quantitative", "title": "Normalized CCF", "scale": {"domain": [0.96857, 1.00786], "nice": false, "zero": false}, "axis": {"format": ".3f", "titlePadding": -7, "labelOverlap": false, "values": [0.970, 0.975, 0.980, 0.985, 0.990, 0.995, 1.000, 1.005]}}, "y2": {"field": "l2"}}},
{"mark": {"type": "area", "color": "red", "fillOpacity": 0.4, "stroke": "red", "strokeOpacity": 0.35, "strokeWidth": 1},
 "encoding": {"y": {"field": "u1", "type": "quantitative", "title": "Normalized CCF", "axis": {"format": ".3f", "titlePadding": -7, "labelOverlap": false, "values": [0.970, 0.975, 0.980, 0.985, 0.990, 0.995, 1.000, 1.005]}}, "y2": {"field": "l1"}}},
{"mark": {"type": "line", "color": "black", "strokeWidth": 1.8},
 "encoding": {"y": {"field": "ccf", "type": "quantitative", "title": "Normalized CCF", "axis": {"format": ".3f", "titlePadding": -7, "labelOverlap": false, "values": [0.970, 0.975, 0.980, 0.985, 0.990, 0.995, 1.000, 1.005]}}}},
{"mark": {"type": "line", "strokeDash": [6, 4], "strokeWidth": 2, "opacity": 0.85},
 "encoding": {"y": {"field": "g", "type": "quantitative", "title": "Normalized CCF", "axis": {"format": ".3f", "titlePadding": -7, "labelOverlap": false, "values": [0.970, 0.975, 0.980, 0.985, 0.990, 0.995, 1.000, 1.005]}},
  "color": {"datum": "Gaussian fit", "scale": {"domain": ["Gaussian fit"], "range": ["#2f7fbf"]},
   "legend": {"title": null, "orient": "top-right", "symbolType": "stroke", "symbolDash": [5, 3], "symbolStrokeWidth": 2, "symbolSize": 289, "symbolOffset": 1.5, "labelOffset": 10.5, "padding": 4,
    "encoding": {"symbols": {"size": {"value": 784}}}}}}}
]
},
{
"width": 1068, "height": 235,
"data": {"name": "p34"},
"encoding": {"x": {"field": "rv", "type": "quantitative", "title": "RV [km/s]", "scale": {"domain": [-330, 330], "nice": false, "zero": false}, "axis": {"format": "d", "values": [-300, -200, -100, 0, 100, 200, 300]}}},
"layer": [
{"mark": {"type": "area", "fillOpacity": 0.45, "stroke": "orange", "strokeOpacity": 0.45, "strokeWidth": 1},
 "encoding": {"y": {"field": "A", "type": "quantitative", "title": "Residuals [to fit]", "scale": {"domain": [-0.0132, 0.00516], "nice": false, "zero": false}, "axis": {"format": ".4f", "titlePadding": 13, "labelOverlap": false, "values": [-0.0125, -0.01, -0.0075, -0.005, -0.0025, 0, 0.0025, 0.005]}}, "y2": {"field": "D"},
  "color": {"datum": "2-σ", "scale": {"domain": ["2-σ", "1-σ", "Median residual"], "range": ["orange", "red", "#3d7fb6"]},
   "legend": {"title": null, "orient": "top-right", "direction": "horizontal", "columns": 3, "columnPadding": 28, "symbolSize": 289, "symbolOffset": 4.5, "labelOffset": 19.5, "padding": 4,
    "encoding": {"symbols": {
     "shape": {"value": {"expr": "datum.value === 'Median residual' ? 'M-1,0L1,0' : 'M-1,-0.32L1,-0.32L1,0.32L-1,0.32Z'"}},
     "size": {"value": 784},
     "fill": {"value": {"expr": "datum.value === '2-σ' ? 'orange' : datum.value === '1-σ' ? 'red' : 'transparent'"}},
     "fillOpacity": {"value": {"expr": "datum.value === '2-σ' ? 0.45 : 0.4"}},
     "stroke": {"value": {"expr": "datum.value === '2-σ' ? 'rgba(255,165,0,0.6)' : datum.value === '1-σ' ? 'rgba(255,0,0,0.45)' : '#3d7fb6'"}},
     "strokeWidth": {"value": {"expr": "datum.value === 'Median residual' ? 2 : 1"}},
     "opacity": {"value": 1}}}}}}},
{"mark": {"type": "area", "fillOpacity": 0.4, "stroke": "red", "strokeOpacity": 0.35, "strokeWidth": 1},
 "encoding": {"y": {"field": "B", "type": "quantitative", "title": "Residuals [to fit]", "axis": {"format": ".4f", "titlePadding": 13, "labelOverlap": false, "values": [-0.0125, -0.01, -0.0075, -0.005, -0.0025, 0, 0.0025, 0.005]}}, "y2": {"field": "C"}, "color": {"datum": "1-σ"}}},
{"mark": {"type": "line", "strokeWidth": 2},
 "encoding": {"y": {"field": "m", "type": "quantitative", "title": "Residuals [to fit]", "axis": {"format": ".4f", "titlePadding": 13, "labelOverlap": false, "values": [-0.0125, -0.01, -0.0075, -0.005, -0.0025, 0, 0.0025, 0.005]}}, "color": {"datum": "Median residual"}}}
]
},
{
"width": 1068, "height": 235,
"data": {"name": "p34"},
"encoding": {"x": {"field": "rv", "type": "quantitative", "title": "RV [km/s]", "scale": {"domain": [-330, 330], "nice": false, "zero": false}, "axis": {"format": "d", "values": [-300, -200, -100, 0, 100, 200, 300]}}},
"layer": [
{"mark": {"type": "area", "fillOpacity": 0.45, "stroke": "orange", "strokeOpacity": 0.45, "strokeWidth": 1},
 "encoding": {"y": {"field": "a", "type": "quantitative", "title": "Residuals [To Median]", "scale": {"domain": [-0.00518, 0.00357], "nice": false, "zero": false}, "axis": {"format": ".3f", "titlePadding": 5, "values": [-0.004, -0.002, 0, 0.002]}}, "y2": {"field": "d"},
  "color": {"datum": "2-σ", "scale": {"domain": ["2-σ", "1-σ", "Median residual"], "range": ["orange", "red", "#3d7fb6"]},
   "legend": {"title": null, "orient": "top-right", "direction": "horizontal", "columns": 3, "columnPadding": 28, "symbolSize": 289, "symbolOffset": 4.5, "labelOffset": 19.5, "padding": 4,
    "encoding": {"symbols": {
     "shape": {"value": {"expr": "datum.value === 'Median residual' ? 'M-1,0L1,0' : 'M-1,-0.32L1,-0.32L1,0.32L-1,0.32Z'"}},
     "size": {"value": 784},
     "fill": {"value": {"expr": "datum.value === '2-σ' ? 'orange' : datum.value === '1-σ' ? 'red' : 'transparent'"}},
     "fillOpacity": {"value": {"expr": "datum.value === '2-σ' ? 0.45 : 0.4"}},
     "stroke": {"value": {"expr": "datum.value === '2-σ' ? 'rgba(255,165,0,0.6)' : datum.value === '1-σ' ? 'rgba(255,0,0,0.45)' : '#3d7fb6'"}},
     "strokeWidth": {"value": {"expr": "datum.value === 'Median residual' ? 2 : 1"}},
     "opacity": {"value": 1}}}}}}},
{"mark": {"type": "area", "fillOpacity": 0.4, "stroke": "red", "strokeOpacity": 0.35, "strokeWidth": 1},
 "encoding": {"y": {"field": "b", "type": "quantitative"}, "y2": {"field": "c"}, "color": {"datum": "1-σ"}}},
{"mark": {"type": "line", "strokeWidth": 2},
 "encoding": {"y": {"field": "z", "type": "quantitative"}, "color": {"datum": "Median residual"}}}
]
}
],
"spacing": 47,
"bounds": "flush",
"resolve": {"scale": {"color": "independent"}, "legend": {"color": "independent"}},
"config": {
"font": "DejaVu Sans",
"view": {"fill": "#fffde2", "stroke": "black", "strokeWidth": 1},
"axis": {"labelFont": "DejaVu Sans", "titleFont": "DejaVu Sans", "labelFontSize": 13.5, "titleFontSize": 13.5, "titleFontWeight": "normal", "labelColor": "black", "titleColor": "black", "tickColor": "black", "tickSize": 4, "domain": false, "gridColor": "#c8c8c8", "gridDash": [4, 3], "gridWidth": 1, "labelPadding": 3, "labelBound": false, "labelOverlap": false},
"axisY": {"minExtent": 63, "maxExtent": 63},
"axisX": {"titlePadding": 4},
"legend": {"labelFont": "DejaVu Sans", "labelFontSize": 13.5, "labelColor": "black", "fillColor": "rgba(255,255,255,0.8)", "strokeColor": "#cccccc", "cornerRadius": 3, "offset": 7}
}
}
